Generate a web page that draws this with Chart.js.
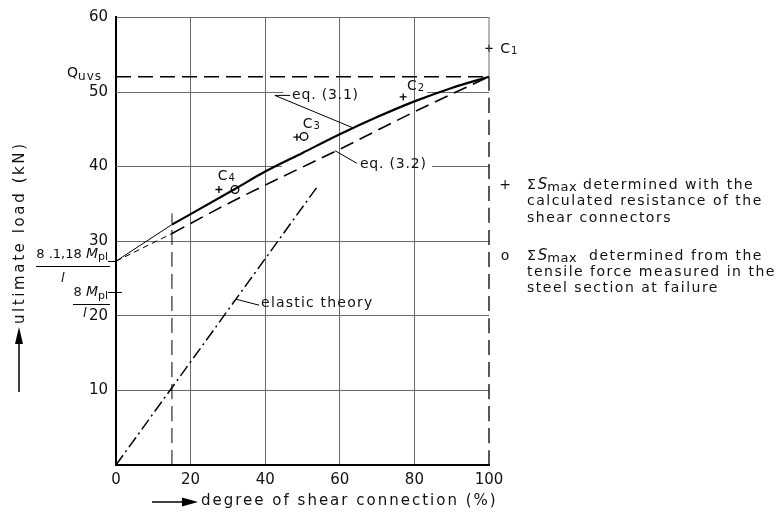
<!DOCTYPE html>
<html>
<head>
<meta charset="utf-8">
<script src="https://cdn.jsdelivr.net/npm/chart.js@4.4.0/dist/chart.umd.min.js"></script>
<style>
  html, body { margin: 0; background: #fff; }
</style>
</head>
<body>
<canvas id="shearChart" width="781" height="512"></canvas>
<script>
const FONT = "'DejaVu Sans', sans-serif"
const INK = '#111'
const GRID = '#6a6a6a'

// axes
const xTicks = [0, 20, 40, 60, 80, 100]
const yTicks = [0, 10, 20, 30, 40, 50, 60]

// eq. (3.1) - full line
const eq31StartX = [0, 15]
const eq31StartY = [27.3, 32.2]
const eq31X = [15, 20, 32, 40, 50, 60, 70, 80, 90, 100]
const eq31Y = [32.2, 33.6, 37.0, 39.3, 41.8, 44.3, 46.6, 48.7, 50.5, 52.0]

// eq. (3.2) - dashed line
const eq32StartX = [0, 15]
const eq32StartY = [27.3, 31.0]
const eq32X = [15, 30, 45, 60, 80, 100]
const eq32Y = [31.0, 35.0, 38.7, 42.3, 47.3, 52.0]

// elastic theory
const elasticX = [0, 54]
const elasticY = [0, 37.3]

// reference lines
const quvsX = [0, 100]
const quvsY = [52, 52]
const fullShearX = [100, 100]
const fullShearY = [0, 52]
const minShearX = [15, 15]
const minShearY = [0, 33.7]
const topEdgeX = [100, 100]
const topEdgeY = [52, 60]

// tests
const plusX = [100, 77, 48.5, 27.6]
const plusY = [55.8, 49.3, 43.9, 36.9]
const circleX = [50.4, 31.9]
const circleY = [44.0, 36.9]
const specimenNames = ['1', '2', '3', '4']
const specimenLabelX = [103, 78, 50.1, 27.3]
const specimenLabelY = [55.7, 50.7, 45.6, 38.7]

// values on the load axis
const mplBase = 23.2
const mplStart = 27.3
const quvs = 52

// grid lines interrupted by the labels
const gapLinesY = [50, 40]
const gapSegments = [[[0, 44.8], [83.4, 100]], [[0, 44.5], [84.7, 100]]]

const pts = (xs, ys) => xs.map((x, i) => ({ x: x, y: ys[i] }))

const lineSet = (xs, ys, width, dash) => ({
  data: pts(xs, ys),
  showLine: true,
  borderColor: '#000',
  borderWidth: width,
  borderDash: dash || [],
  pointRadius: 0,
  cubicInterpolationMode: 'monotone',
  clip: false
})

// text helpers
const drawRuns = (ctx, parts, x, y) => {
  parts.forEach(p => {
    ctx.font = p.f
    ctx.letterSpacing = p.ls || '0px'
    ctx.fillText(p.t, x, y + (p.dy || 0))
    x += ctx.measureText(p.t).width
  })
  return x
}

const runsWidth = (ctx, parts) => {
  let w = 0
  parts.forEach(p => {
    ctx.font = p.f
    ctx.letterSpacing = p.ls || '0px'
    w += ctx.measureText(p.t).width
  })
  return w
}

const segment = (ctx, x1, y1, x2, y2, w) => {
  ctx.lineWidth = w || 1
  ctx.beginPath()
  ctx.moveTo(x1, y1)
  ctx.lineTo(x2, y2)
  ctx.stroke()
}

const sigmaS = [
  { t: 'Σ', f: `14px ${FONT}` },
  { t: ' ', f: `6px ${FONT}` },
  { t: 'S', f: `italic 15px ${FONT}` },
  { t: 'max', f: `13px ${FONT}`, dy: 3, ls: '0.5px' }
]

const annotations = {
  id: 'annotations',
  beforeDatasetsDraw(chart) {
    const { ctx, scales: { x, y } } = chart
    ctx.save()
    ctx.strokeStyle = GRID
    gapLinesY.forEach((v, i) => {
      const py = Math.round(y.getPixelForValue(v)) + 0.5
      gapSegments[i].forEach(([a, b]) => segment(ctx, x.getPixelForValue(a), py, x.getPixelForValue(b), py, 1))
    })
    ctx.restore()
  },
  afterDraw(chart) {
    const { ctx, chartArea: area, scales: { x, y } } = chart
    const X = v => x.getPixelForValue(v)
    const Y = v => y.getPixelForValue(v)
    ctx.save()
    ctx.fillStyle = INK
    ctx.strokeStyle = '#000'
    ctx.textBaseline = 'middle'
    ctx.textAlign = 'left'

    // curve labels and leaders
    const lab = `14px ${FONT}`
    drawRuns(ctx, [{ t: 'eq. (3.1)', f: lab, ls: '0.8px' }], X(47.2), Y(49.5))
    segment(ctx, X(42.6), Y(49.5), X(46.7), Y(49.5))
    segment(ctx, X(42.6), Y(49.5), X(63.3), Y(45.2))
    drawRuns(ctx, [{ t: 'eq. (3.2)', f: lab, ls: '0.8px' }], X(65.4), Y(40.3))
    segment(ctx, X(58.7), Y(42.1), X(64.6), Y(40.4))
    drawRuns(ctx, [{ t: 'elastic theory', f: lab, ls: '1.2px' }], X(38.9), Y(21.6))
    segment(ctx, X(32.2), Y(22.2), X(38.4), Y(21.4))

    // specimen names
    specimenNames.forEach((n, i) => {
      drawRuns(ctx, [
        { t: 'C', f: `14px ${FONT}` },
        { t: ' ', f: `3px ${FONT}` },
        { t: n, f: `10px ${FONT}`, dy: 2 }
      ], X(specimenLabelX[i]), Y(specimenLabelY[i]))
    })

    // Q_uvs
    const qParts = [{ t: 'Q', f: `14px ${FONT}` }, { t: 'uvs', f: `12px ${FONT}`, dy: 3, ls: '1px' }]
    drawRuns(ctx, qParts, area.left - 14 - runsWidth(ctx, qParts), Y(quvs) - 3)

    // 8.1,18 Mpl / l
    const p1 = Y(mplStart)
    const f1 = [
      { t: '8 .1,18 ', f: `13px ${FONT}` },
      { t: 'M', f: `italic 14px ${FONT}` },
      { t: 'pl', f: `11px ${FONT}`, dy: 3 }
    ]
    drawRuns(ctx, f1, area.left - 8 - runsWidth(ctx, f1), p1 - 7)
    segment(ctx, 36, Math.round(p1) + 5.5, area.left - 6, Math.round(p1) + 5.5)
    segment(ctx, area.left - 8, Math.round(p1) + 0.5, area.left, Math.round(p1) + 0.5)
    drawRuns(ctx, [{ t: 'l', f: `italic 13px ${FONT}` }], 61, p1 + 17)

    // 8 Mpl / l
    const p2 = Y(mplBase)
    const f2 = [
      { t: '8 ', f: `13px ${FONT}` },
      { t: 'M', f: `italic 14px ${FONT}` },
      { t: 'pl', f: `11px ${FONT}`, dy: 3 }
    ]
    drawRuns(ctx, f2, area.left - 8 - runsWidth(ctx, f2), p2 + 1)
    segment(ctx, area.left - 8, Math.round(p2) + 0.5, area.left + 6, Math.round(p2) + 0.5)
    segment(ctx, 73, Math.round(p2) + 12.5, area.left - 6, Math.round(p2) + 12.5)
    drawRuns(ctx, [{ t: 'l', f: `italic 13px ${FONT}` }], 83, p2 + 22)

    // legend
    const txt = `14px ${FONT}`
    const ls = '1.5px'
    ctx.textAlign = 'center'
    drawRuns(ctx, [{ t: '+', f: txt }], 505, 185)
    drawRuns(ctx, [{ t: 'o', f: txt }], 505, 256)
    ctx.textAlign = 'left'
    let lx = drawRuns(ctx, sigmaS, 527, 185)
    drawRuns(ctx, [{ t: ' determined with the', f: txt, ls: ls }], lx, 185)
    drawRuns(ctx, [{ t: 'calculated resistance of the', f: txt, ls: ls }], 527, 201.5)
    drawRuns(ctx, [{ t: 'shear connectors', f: txt, ls: ls }], 527, 218)
    lx = drawRuns(ctx, sigmaS, 527, 256)
    drawRuns(ctx, [{ t: '  determined from the', f: txt, ls: ls }], lx, 256)
    drawRuns(ctx, [{ t: 'tensile force measured in the', f: txt, ls: ls }], 527, 272)
    drawRuns(ctx, [{ t: 'steel section at failure', f: txt, ls: ls }], 527, 288)

    // x axis title with arrow
    ctx.fillStyle = '#000'
    segment(ctx, 152, 502, 186, 502, 1.5)
    ctx.beginPath()
    ctx.moveTo(198, 502)
    ctx.lineTo(182, 497.5)
    ctx.lineTo(182, 506.5)
    ctx.closePath()
    ctx.fill()
    ctx.fillStyle = INK
    drawRuns(ctx, [{ t: 'degree of shear connection (%)', f: `15px ${FONT}`, ls: '2px' }], 201, 501)

    // y axis title with arrow
    ctx.fillStyle = '#000'
    segment(ctx, 19, 392, 19, 340, 1.5)
    ctx.beginPath()
    ctx.moveTo(19, 327)
    ctx.lineTo(15, 344)
    ctx.lineTo(23, 344)
    ctx.closePath()
    ctx.fill()
    ctx.fillStyle = INK
    ctx.translate(24, 324)
    ctx.rotate(-Math.PI / 2)
    ctx.textBaseline = 'alphabetic'
    drawRuns(ctx, [{ t: 'ultimate load (kN)', f: `15px ${FONT}`, ls: '2.6px' }], 0, 0)
    ctx.restore()
  }
}

const ctx = document.getElementById('shearChart').getContext('2d')

// scales chart
let scales_chart = {
  x: {
    type: 'linear',
    min: 0,
    max: 100,
    afterBuildTicks: s => { s.ticks = xTicks.map(v => ({ value: v })) },
    afterFit: s => { s.height = 47 },
    grid: {
      color: c => (c.tick && c.tick.value === 100) ? 'rgba(0,0,0,0)' : GRID,
      lineWidth: 1,
      drawTicks: false
    },
    border: { display: true, color: '#000', width: 2 },
    ticks: { color: INK, padding: 6, font: { family: FONT, size: 15 } }
  },
  y: {
    type: 'linear',
    min: 0,
    max: 60,
    afterBuildTicks: s => { s.ticks = yTicks.map(v => ({ value: v })) },
    afterFit: s => { s.width = 116 },
    grid: {
      color: c => (c.tick && gapLinesY.includes(c.tick.value)) ? 'rgba(0,0,0,0)' : GRID,
      lineWidth: 1,
      drawTicks: false
    },
    border: { display: true, color: '#000', width: 2 },
    ticks: {
      color: INK,
      padding: 8,
      font: { family: FONT, size: 15 },
      callback: v => v === 0 ? '' : v
    }
  }
}

new Chart(ctx, {
  type: 'scatter',
  data: {
    datasets: [
      lineSet(eq31StartX, eq31StartY, 1),
      lineSet(eq32StartX, eq32StartY, 1, [6, 4]),
      lineSet(eq31X, eq31Y, 2.2),
      lineSet(eq32X, eq32Y, 1.6, [14, 7]),
      lineSet(elasticX, elasticY, 1.5, [12, 4, 2, 4]),
      lineSet(quvsX, quvsY, 1.3, [15, 7]),
      lineSet(fullShearX, fullShearY, 1.3, [15, 7]),
      lineSet(minShearX, minShearY, 1, [15, 7]),
      Object.assign(lineSet(topEdgeX, topEdgeY, 1), { borderColor: GRID }),
      {
        data: pts(plusX, plusY),
        pointStyle: 'cross',
        pointRadius: 3.5,
        pointBorderWidth: 1.3,
        pointBorderColor: '#000',
        clip: false
      },
      {
        data: pts(circleX, circleY),
        pointStyle: 'circle',
        pointRadius: 3.8,
        pointBorderWidth: 1.3,
        pointBorderColor: '#000',
        pointBackgroundColor: '#fff',
        clip: false
      }
    ]
  },
  options: {
    responsive: false,
    animation: false,
    events: [],
    layout: { padding: { left: 0, top: 15, right: 292, bottom: 0 } },
    plugins: {
      legend: { display: false },
      tooltip: { enabled: false }
    },
    scales: scales_chart
  },
  plugins: [annotations]
})
</script>
</body>
</html>
